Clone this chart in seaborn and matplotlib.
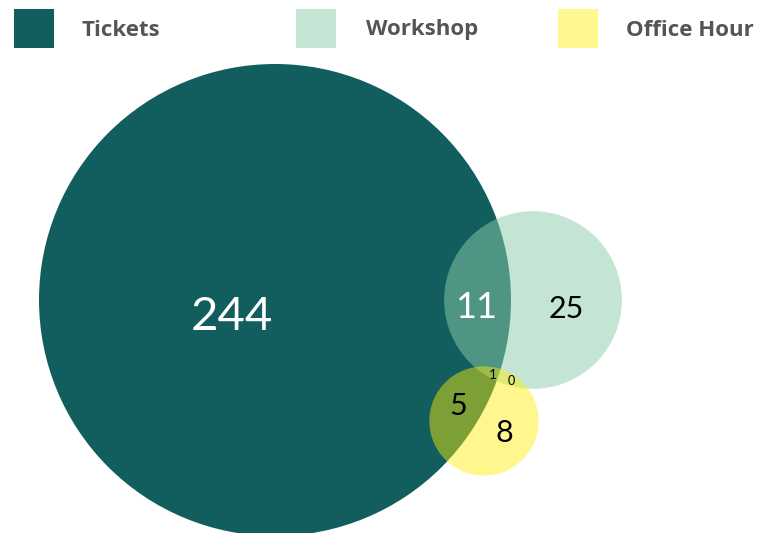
import numpy as np
import seaborn as sns
import matplotlib.pyplot as plt
from matplotlib.patches import Circle, Rectangle

# sets and region counts
set_names = ['Tickets', 'Workshop', 'Office Hour']
legend_colors = ['#125E5E', '#C5E6D4', '#FFF88F']
fill_colors = ['#125E5E', '#8BCDAA', '#FFEF06']
fill_alpha = [1.0, 0.5, 0.45]

region_names = ['T', 'TW', 'W', 'TO', 'O', 'TWO', 'WO']
region_counts = [244, 11, 25, 5, 8, 1, 0]
region_text_colors = ['white', 'white', 'black', 'black', 'black', 'black', 'black']

# set totals -> area proportional radii
set_totals = [sum(c for r, c in zip(region_names, region_counts) if k in r) for k in 'TWO']

sns.set_theme(style='white')
plt.rcParams['font.family'] = ['Lato', 'DejaVu Sans']

W, H = 772, 533
fig = plt.figure(figsize=(W / 100, H / 100), dpi=100)
ax = fig.add_axes([0, 0, 1, 1])
ax.set_xlim(0, W)
ax.set_ylim(H, 0)
ax.axis('off')

scale = 236 / np.sqrt(set_totals[0])
centers = [(275, 300), (533, 300), (484, 421)]
for i, (cx, cy) in enumerate(centers):
    r = scale * np.sqrt(set_totals[i])
    ax.add_patch(Circle((cx, cy), r, facecolor=fill_colors[i], alpha=fill_alpha[i],
                        edgecolor='none', zorder=i + 1))

label_pos = [(232, 317), (476, 307), (566, 309), (458, 406), (504, 433), (493, 375), (511, 381)]
label_size = [34, 26, 22, 22, 22, 10, 9]
for (x, y), n, col, fs in zip(label_pos, region_counts, region_text_colors, label_size):
    ax.text(x, y, str(n), color=col, fontsize=fs, ha='center', va='center', zorder=10)

# legend
sq_x = [14, 296, 558]
txt_x = [82, 366, 626]
for i, name in enumerate(set_names):
    ax.add_patch(Rectangle((sq_x[i], 9), 40, 39, facecolor=legend_colors[i], edgecolor='none', zorder=10))
    ax.text(txt_x[i], 30, name, color='#555555', fontsize=16, fontweight='bold',
            family=['Open Sans', 'DejaVu Sans'], ha='left', va='center', zorder=10)

fig.savefig('out.png', dpi=100)
